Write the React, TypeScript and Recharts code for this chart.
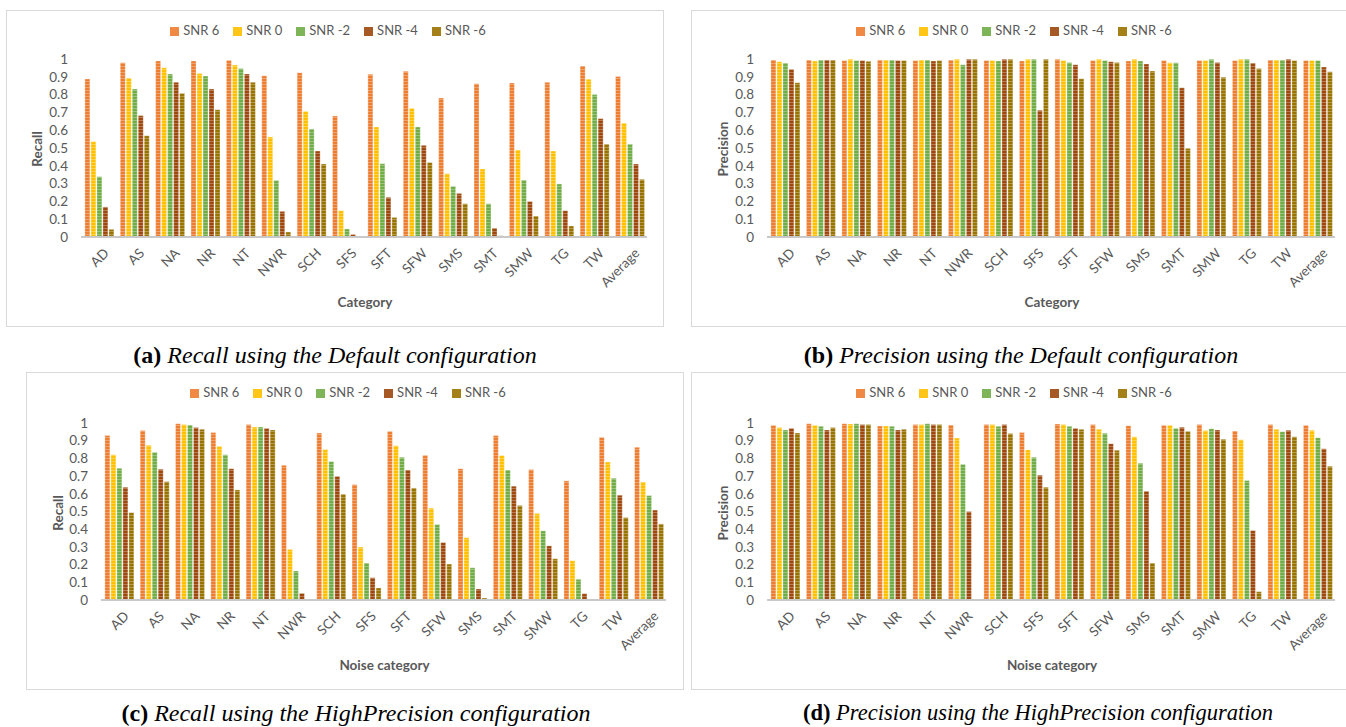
import React from 'react';
import { BarChart, Bar, XAxis, YAxis, Legend } from 'recharts';

const categories = ['AD', 'AS', 'NA', 'NR', 'NT', 'NWR', 'SCH', 'SFS', 'SFT', 'SFW', 'SMS', 'SMT', 'SMW', 'TG', 'TW', 'Average'];
const seriesNames = ['SNR 6', 'SNR 0', 'SNR -2', 'SNR -4', 'SNR -6'];
const seriesColors = ['#ED7D31', '#FFC000', '#70AD47', '#9E480E', '#997300'];
const yTicks = [0, 0.1, 0.2, 0.3, 0.4, 0.5, 0.6, 0.7, 0.8, 0.9, 1];

// (a) recall, default configuration
const recallDefSnr6 = [0.888, 0.979, 0.989, 0.989, 0.993, 0.906, 0.923, 0.68, 0.914, 0.931, 0.781, 0.861, 0.865, 0.869, 0.961, 0.901];
const recallDefSnr0 = [0.536, 0.893, 0.951, 0.919, 0.966, 0.562, 0.706, 0.148, 0.618, 0.723, 0.356, 0.382, 0.489, 0.483, 0.886, 0.64];
const recallDefSnrM2 = [0.339, 0.831, 0.916, 0.904, 0.946, 0.318, 0.607, 0.045, 0.412, 0.618, 0.285, 0.187, 0.32, 0.298, 0.8, 0.522];
const recallDefSnrM4 = [0.169, 0.682, 0.869, 0.831, 0.916, 0.144, 0.483, 0.015, 0.223, 0.515, 0.245, 0.05, 0.2, 0.148, 0.665, 0.41];
const recallDefSnrM6 = [0.043, 0.569, 0.807, 0.715, 0.869, 0.028, 0.41, 0, 0.11, 0.419, 0.187, 0.007, 0.118, 0.062, 0.522, 0.324];

// (b) precision, default configuration
const precDefSnr6 = [0.994, 0.994, 0.991, 0.994, 0.991, 0.994, 0.991, 0.989, 0.998, 0.991, 0.989, 0.991, 0.991, 0.991, 0.994, 0.992];
const precDefSnr0 = [0.985, 0.989, 0.998, 0.994, 0.994, 0.998, 0.992, 0.998, 0.992, 0.998, 0.998, 0.979, 0.991, 0.998, 0.994, 0.992];
const precDefSnrM2 = [0.977, 0.994, 0.991, 0.994, 0.994, 0.968, 0.989, 0.998, 0.981, 0.992, 0.989, 0.979, 0.998, 0.998, 0.994, 0.991];
const precDefSnrM4 = [0.942, 0.994, 0.991, 0.991, 0.989, 0.998, 0.998, 0.712, 0.968, 0.985, 0.972, 0.838, 0.981, 0.977, 0.998, 0.955];
const precDefSnrM6 = [0.867, 0.994, 0.987, 0.991, 0.991, 0.998, 0.998, 0.998, 0.889, 0.981, 0.932, 0.498, 0.898, 0.947, 0.991, 0.929];

// (c) recall, HighPrecision configuration
const recallHpSnr6 = [0.93, 0.957, 0.996, 0.947, 0.991, 0.761, 0.944, 0.652, 0.953, 0.818, 0.742, 0.93, 0.737, 0.673, 0.919, 0.863];
const recallHpSnr0 = [0.821, 0.874, 0.991, 0.868, 0.977, 0.286, 0.85, 0.299, 0.872, 0.519, 0.352, 0.816, 0.489, 0.222, 0.78, 0.667];
const recallHpSnrM2 = [0.744, 0.835, 0.989, 0.82, 0.977, 0.164, 0.782, 0.209, 0.806, 0.427, 0.182, 0.735, 0.391, 0.117, 0.688, 0.59];
const recallHpSnrM4 = [0.637, 0.739, 0.974, 0.742, 0.97, 0.038, 0.699, 0.126, 0.735, 0.325, 0.062, 0.643, 0.306, 0.036, 0.592, 0.508];
const recallHpSnrM6 = [0.494, 0.669, 0.964, 0.622, 0.961, 0, 0.598, 0.068, 0.633, 0.203, 0.011, 0.534, 0.233, 0, 0.466, 0.43];

// (d) precision, HighPrecision configuration
const precHpSnr6 = [0.987, 0.996, 0.996, 0.983, 0.991, 0.989, 0.992, 0.947, 0.994, 0.991, 0.985, 0.987, 0.992, 0.955, 0.992, 0.987];
const precHpSnr0 = [0.974, 0.987, 0.994, 0.983, 0.991, 0.915, 0.991, 0.848, 0.992, 0.964, 0.923, 0.987, 0.957, 0.906, 0.964, 0.959];
const precHpSnrM2 = [0.961, 0.981, 0.996, 0.981, 0.996, 0.767, 0.981, 0.806, 0.981, 0.942, 0.773, 0.97, 0.968, 0.675, 0.951, 0.917];
const precHpSnrM4 = [0.97, 0.961, 0.991, 0.961, 0.992, 0.5, 0.991, 0.705, 0.97, 0.883, 0.615, 0.976, 0.961, 0.393, 0.959, 0.855];
const precHpSnrM6 = [0.944, 0.974, 0.992, 0.964, 0.992, 0, 0.94, 0.637, 0.964, 0.846, 0.209, 0.953, 0.908, 0.047, 0.923, 0.756];

const FONT = 'Lato, "Noto Sans", sans-serif';
const GREY = '#595959';

const buildRows = (series: number[][]) =>
  categories.map((cat, i) => {
    const row: Record<string, string | number> = { cat };
    series.forEach((s, k) => {
      row['s' + k] = s[i];
    });
    return row;
  });

const AngledTick = (props: any) => {
  const { x, y, payload } = props;
  return (
    <g transform={`translate(${x + 4},${y + 2})`}>
      <text x={0} y={0} dy={10} textAnchor="end" fill={GREY} fontSize={13.5} fontFamily={FONT} transform="rotate(-45)">
        {payload.value}
      </text>
    </g>
  );
};

interface PanelProps {
  id: string;
  left: number;
  top: number;
  width: number;
  height: number;
  plotTop: number;
  plotLeft: number;
  plotRight: number;
  yLabel: string;
  yLabelX: number;
  xLabel: string;
  xLabelY: number;
  series: number[][];
}

const Panel: React.FC<PanelProps> = ({ id, left, top, width, height, plotTop, plotLeft, plotRight, yLabel, yLabelX, xLabel, xLabelY, series }) => {
  const data = buildRows(series);
  const xAxisH = 90;
  const plotCenterY = plotTop + (height - xAxisH - plotTop) / 2;
  const plotCenterX = (plotLeft + plotRight) / 2;
  return (
    <div style={{ position: 'absolute', left, top, width, height, border: '1px solid #d9d9d9', boxSizing: 'border-box', background: '#fff' }}>
      <BarChart
        width={width}
        height={height}
        data={data}
        margin={{ top: plotTop, right: width - plotRight, bottom: 0, left: 0 }}
        barCategoryGap="11%"
        barGap={1}
        style={{ position: 'absolute', left: -1, top: -1 }}
      >
        <defs>
          {seriesColors.map((c, i) => (
            <pattern key={i} id={`${id}-p${i}`} patternUnits="userSpaceOnUse" width={6} height={3}>
              <rect width={6} height={3} fill={c} />
              <rect y={2} width={6} height={1} fill="#fff" fillOpacity={0.28} />
            </pattern>
          ))}
        </defs>
        <XAxis
          dataKey="cat"
          interval={0}
          height={xAxisH}
          tickLine={false}
          axisLine={{ stroke: '#c9c9c9', strokeWidth: 2 }}
          tick={<AngledTick />}
        />
        <YAxis
          width={plotLeft}
          domain={[0, 1]}
          ticks={yTicks}
          interval={0}
          axisLine={false}
          tickLine={false}
          tickMargin={7}
          tickFormatter={(v: number) => String(v)}
          tick={{ fill: GREY, fontSize: 13.5, fontFamily: FONT }}
        />
        <Legend
          verticalAlign="middle"
          align="center"
          layout="horizontal"
          iconType="square"
          iconSize={9}
          itemSorter={(item: any) => seriesNames.indexOf(item.value)}
          wrapperStyle={{ top: 12, left: 0, width: width, fontSize: 13, fontFamily: FONT, lineHeight: '16px' }}
          formatter={(v: string) => <span style={{ color: GREY, marginRight: 4 }}>{v}</span>}
        />
        {seriesNames.map((name, i) => (
          <Bar
            key={name}
            dataKey={'s' + i}
            name={name}
            fill={`url(#${id}-p${i})`}
            stroke="#ffffff"
            strokeOpacity={0.5}
            strokeWidth={0.6}
            isAnimationActive={false}
          />
        ))}
      </BarChart>
      <div
        style={{
          position: 'absolute',
          left: yLabelX,
          top: plotCenterY,
          transform: 'translate(-50%, -50%) rotate(-90deg)',
          fontFamily: FONT,
          fontWeight: 700,
          fontSize: 13.5,
          color: GREY,
          whiteSpace: 'nowrap',
        }}
      >
        {yLabel}
      </div>
      <div
        style={{
          position: 'absolute',
          left: plotCenterX,
          top: xLabelY,
          transform: 'translate(-50%, -50%)',
          fontFamily: FONT,
          fontWeight: 700,
          fontSize: 13.5,
          color: GREY,
          whiteSpace: 'nowrap',
        }}
      >
        {xLabel}
      </div>
    </div>
  );
};

const Caption: React.FC<{ tag: string; text: string; cx: number; cy: number; size?: number }> = ({ tag, text, cx, cy, size = 24 }) => (
  <div
    style={{
      position: 'absolute',
      left: cx,
      top: cy,
      transform: 'translate(-50%, -50%)',
      fontFamily: '"Liberation Serif", "Times New Roman", serif',
      fontSize: size,
      lineHeight: `${size}px`,
      whiteSpace: 'nowrap',
      color: '#000',
    }}
  >
    <b>{tag}</b> <i>{text}</i>
  </div>
);

export default function App() {
  return (
    <div style={{ position: 'absolute', left: 0, top: 0, width: 1346, height: 727, overflow: 'hidden', background: '#fff' }}>
      <Panel
        id="pa"
        left={6}
        top={10}
        width={658}
        height={317}
        plotTop={49}
        plotLeft={75}
        plotRight={641}
        yLabel="Recall"
        yLabelX={30}
        xLabel="Category"
        xLabelY={291}
        series={[recallDefSnr6, recallDefSnr0, recallDefSnrM2, recallDefSnrM4, recallDefSnrM6]}
      />
      <Panel
        id="pb"
        left={691}
        top={10}
        width={660}
        height={317}
        plotTop={49}
        plotLeft={76}
        plotRight={644}
        yLabel="Precision"
        yLabelX={31}
        xLabel="Category"
        xLabelY={291}
        series={[precDefSnr6, precDefSnr0, precDefSnrM2, precDefSnrM4, precDefSnrM6]}
      />
      <Panel
        id="pc"
        left={26}
        top={372}
        width={658}
        height={318}
        plotTop={51}
        plotLeft={75}
        plotRight={640}
        yLabel="Recall"
        yLabelX={31}
        xLabel="Noise category"
        xLabelY={292}
        series={[recallHpSnr6, recallHpSnr0, recallHpSnrM2, recallHpSnrM4, recallHpSnrM6]}
      />
      <Panel
        id="pd"
        left={691}
        top={372}
        width={660}
        height={318}
        plotTop={51}
        plotLeft={76}
        plotRight={644}
        yLabel="Precision"
        yLabelX={31}
        xLabel="Noise category"
        xLabelY={292}
        series={[precHpSnr6, precHpSnr0, precHpSnrM2, precHpSnrM4, precHpSnrM6]}
      />
      <Caption tag="(a)" text="Recall using the Default configuration" cx={335} cy={355} />
      <Caption tag="(b)" text="Precision using the Default configuration" cx={1021} cy={355} />
      <Caption tag="(c)" text="Recall using the HighPrecision configuration" cx={356} cy={713} />
      <Caption tag="(d)" text="Precision using the HighPrecision configuration" cx={1038} cy={713} size={22.5} />
    </div>
  );
}
